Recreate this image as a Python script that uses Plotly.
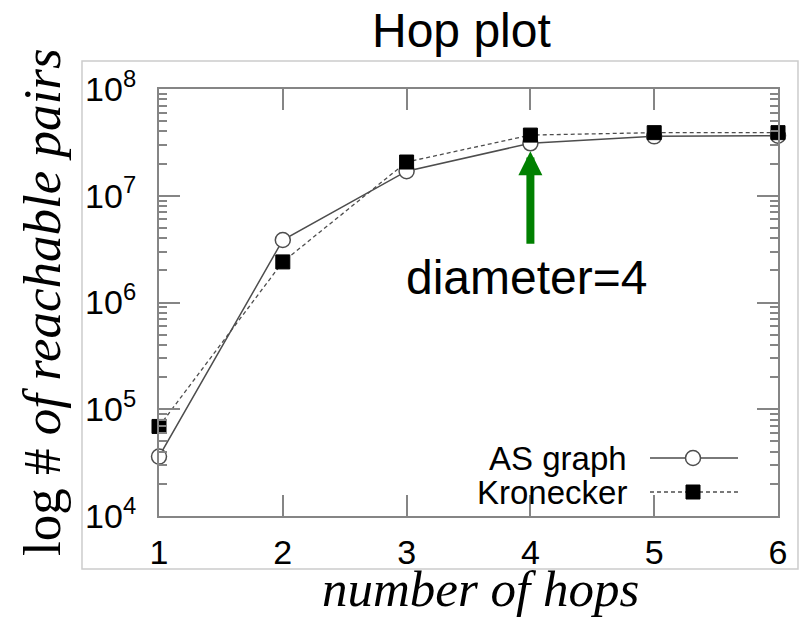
import numpy as np
import plotly.graph_objects as go

# ---- data ----
hops = [1, 2, 3, 4, 5, 6]
as_graph = [3.6e4, 3.85e6, 1.7e7, 3.1e7, 3.6e7, 3.65e7]
kronecker = [6.9e4, 2.4e6, 2.07e7, 3.7e7, 3.9e7, 3.9e7]
y_tickvals = [1e4, 1e5, 1e6, 1e7, 1e8]
y_ticktext = ["10<sup>4</sup>", "10<sup>5</sup>", "10<sup>6</sup>", "10<sup>7</sup>", "10<sup>8</sup>"]
x_ticktext = ["1", "2", "3", "4", "5", "6"]
series_names = ["AS graph", "Kronecker"]
diameter = 4

SANS = "Liberation Sans, Arial, sans-serif"
SERIF = "Liberation Serif, Times New Roman, serif"
AX = "#858585"
LINE = "#4d4d4d"

fig = go.Figure()
fig.add_trace(go.Scatter(
    x=hops, y=as_graph, name=series_names[0], mode="lines+markers",
    line=dict(color=LINE, width=1.5),
    marker=dict(symbol="circle", size=15, color="white", line=dict(color=LINE, width=1.5)),
    cliponaxis=False, showlegend=False))
fig.add_trace(go.Scatter(
    x=hops, y=kronecker, name=series_names[1], mode="lines+markers",
    line=dict(color=LINE, width=1.3, dash="4px,3px"),
    marker=dict(symbol="square", size=14, color="black", line=dict(color="black", width=1)),
    cliponaxis=False, showlegend=False))

fig.update_layout(
    width=801, height=618,
    margin=dict(l=159, r=23, t=89, b=102),
    paper_bgcolor="white", plot_bgcolor="white",
    showlegend=False,
)
fig.update_xaxes(
    range=[1, 6], tickvals=hops, ticktext=x_ticktext,
    showgrid=False, zeroline=False,
    showline=True, linecolor=AX, linewidth=2, mirror="ticks",
    ticks="inside", ticklen=21, tickwidth=2, tickcolor=AX,
    tickfont=dict(family=SANS, size=34, color="black"),
    ticklabelstandoff=5,
)
fig.update_yaxes(
    type="log", range=[4, 8], tickvals=y_tickvals, ticktext=y_ticktext,
    showgrid=False, zeroline=False,
    showline=True, linecolor=AX, linewidth=2, mirror="ticks",
    ticks="inside", ticklen=21, tickwidth=2, tickcolor=AX,
    minor=dict(ticks="inside", ticklen=8, tickwidth=2, tickcolor=AX, dtick="D1", showgrid=False),
    tickfont=dict(family=SANS, size=34, color="black"),
    ticklabelstandoff=14,
)

# outer light frame
fig.add_shape(type="rect", xref="paper", yref="paper",
              x0=-0.1244, x1=1.0323, y0=-0.1241, y1=1.0656,
              line=dict(color="#cccccc", width=1.5), layer="below")

# title
fig.add_annotation(text="Hop plot", xref="paper", yref="paper", x=0.4887, y=1.136,
                   xanchor="center", yanchor="middle", showarrow=False,
                   font=dict(family=SANS, size=48, color="black"))
# axis titles
fig.add_annotation(text="<i>number of hops</i>", xref="paper", yref="paper", x=0.52, y=-0.172,
                   xanchor="center", yanchor="middle", showarrow=False,
                   font=dict(family=SERIF, size=51, color="black"))
fig.add_annotation(text="log # <i>of reachable pairs</i>", xref="paper", yref="paper",
                   x=-0.19, y=0.5, textangle=-90,
                   xanchor="center", yanchor="middle", showarrow=False,
                   font=dict(family=SERIF, size=53, color="black"))

# diameter arrow + label
fig.add_annotation(x=diameter, y=float(np.log10(as_graph[hops.index(diameter)])),
                   xref="x", yref="y", text="", showarrow=True,
                   ax=0, ay=102, arrowhead=2, arrowsize=0.6, arrowwidth=8,
                   arrowcolor="#008000", standoff=8)
fig.add_annotation(text=f"diameter={diameter}", xref="paper", yref="paper",
                   x=0.5937, y=0.5574, xanchor="center", yanchor="middle", showarrow=False,
                   font=dict(family=SANS, size=48, color="black"))

# manual legend (text left of sample)
leg_y = [0.1358, 0.0562]
leg_text_x = 0.7593
leg_line = (0.7932, 0.9354)
leg_mark = 0.8627
for i, name in enumerate(series_names):
    fig.add_annotation(text=name, xref="paper", yref="paper", x=leg_text_x, y=leg_y[i],
                       xanchor="right", yanchor="middle", showarrow=False,
                       font=dict(family=SANS, size=33, color="black"))
    fig.add_shape(type="line", xref="paper", yref="paper",
                  x0=leg_line[0], x1=leg_line[1], y0=leg_y[i], y1=leg_y[i],
                  line=dict(color=LINE, width=1.5 if i == 0 else 1.3,
                            dash="solid" if i == 0 else "4px,3px"))
fig.add_shape(type="circle", xref="paper", yref="paper",
              xsizemode="pixel", ysizemode="pixel",
              xanchor=leg_mark, yanchor=leg_y[0], x0=-7.5, x1=7.5, y0=-7.5, y1=7.5,
              fillcolor="white", line=dict(color=LINE, width=1.5))
fig.add_shape(type="rect", xref="paper", yref="paper",
              xsizemode="pixel", ysizemode="pixel",
              xanchor=leg_mark, yanchor=leg_y[1], x0=-7, x1=7, y0=-7, y1=7,
              fillcolor="black", line=dict(color="black", width=1))

fig.write_html("out.html")
